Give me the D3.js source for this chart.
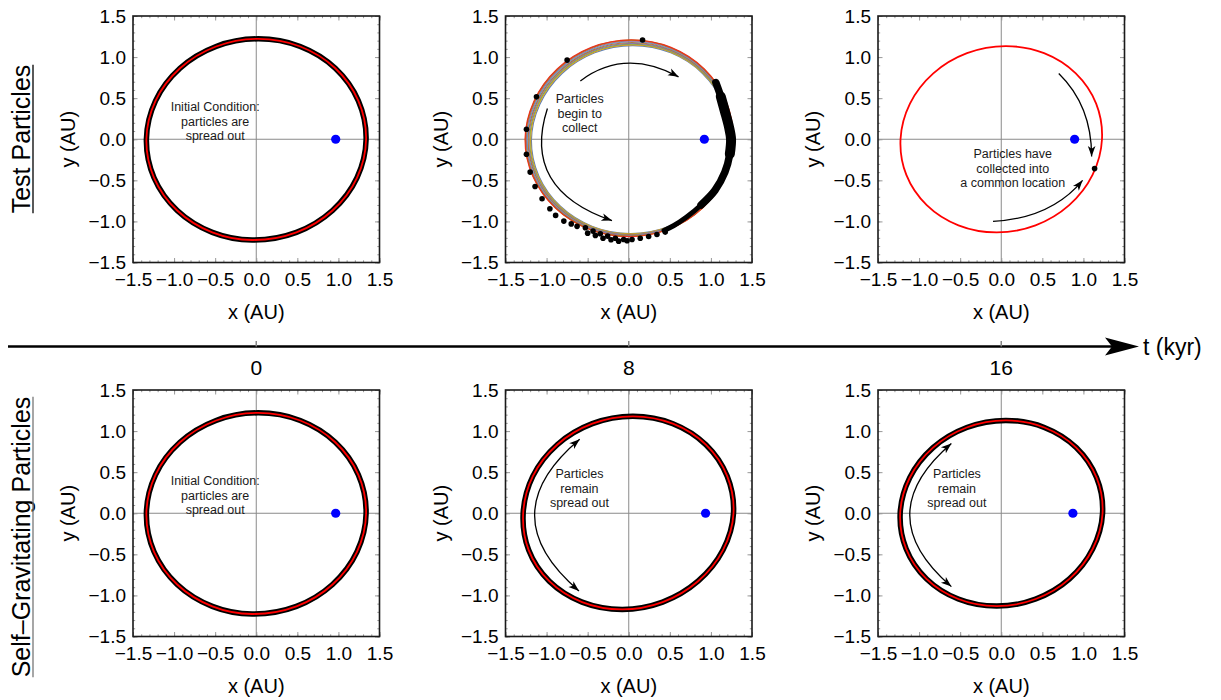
<!DOCTYPE html>
<html>
<head>
<meta charset="utf-8">
<script src="https://cdn.jsdelivr.net/npm/d3@7"></script>
<style>
  body { margin: 0; background: #fff; }
  svg { display: block; }
  text { font-family: "Liberation Sans", Arial, sans-serif; }
</style>
</head>
<body>
<svg id="chart" width="1221" height="700"></svg>
<script>
// values, in AU
var axisTicks = [-1.5, -1.0, -0.5, 0.0, 0.5, 1.0, 1.5];
var timeLabels = ['0', '8', '16'];
var rowLabels = ['Test Particles', 'Self\u2013Gravitating Particles'];

// planet (blue dot) x position per panel, y = 0
var planetX = [0.967, 0.92, 0.893, 0.967, 0.935, 0.872];

// orbit traces, counter-clockwise from the +x side
var orbitStart = [[1.337, 0], [1.243, 0.468], [0.962, 0.864], [0.535, 1.129], [0.024, 1.222], [-0.489, 1.129],
    [-0.928, 0.864], [-1.226, 0.468], [-1.337, 0], [-1.244, -0.469], [-0.962, -0.867], [-0.535, -1.133],
    [-0.05, -1.226], [0.489, -1.133], [0.928, -0.867], [1.226, -0.469]];
var orbitTest8 = [[1.27, 0], [1.185, 0.463], [0.919, 0.855], [0.514, 1.118], [0.03, 1.21], [-0.455, 1.118],
    [-0.871, 0.855], [-1.154, 0.463], [-1.262, 0], [-1.166, -0.454], [-0.892, -0.838], [-0.483, -1.095],
    [0.0, -1.185], [0.486, -1.095], [0.898, -0.838], [1.173, -0.454]];
var orbitTest16 = [[1.226, 0], [1.155, 0.434], [0.907, 0.802], [0.521, 1.048], [0.057, 1.134], [-0.417, 1.048],
    [-0.827, 0.802], [-1.111, 0.434], [-1.226, 0], [-1.155, -0.434], [-0.907, -0.802], [-0.521, -1.048],
    [-0.057, -1.134], [0.417, -1.048], [0.827, -0.802], [1.111, -0.434]];
var orbitSelf8 = [[1.275, 0], [1.198, 0.452], [0.939, 0.834], [0.537, 1.090], [0.05, 1.18], [-0.443, 1.090],
    [-0.871, 0.834], [-1.167, 0.452], [-1.285, 0], [-1.218, -0.448], [-0.967, -0.827], [-0.568, -1.081],
    [-0.08, -1.17], [0.412, -1.081], [0.843, -0.827], [1.147, -0.448]];
var orbitSelf16 = [[1.233, 0], [1.161, 0.432], [0.912, 0.799], [0.524, 1.044], [0.057, 1.13], [-0.419, 1.044],
    [-0.830, 0.799], [-1.114, 0.432], [-1.23, 0], [-1.158, -0.432], [-0.91, -0.799], [-0.523, -1.044],
    [-0.057, -1.13], [0.419, -1.044], [0.830, -0.799], [1.114, -0.432]];

// the spread of test-particle orbits at 8 kyr (scale about bandCenter)
var bandCenter = [0.45, -0.35];
var bandScale = [0.955, 0.961, 0.967, 0.973, 0.979, 0.985, 0.991, 0.997, 1.0];
var bandColors = ['#5e81b5', '#e19c24', '#8fb032', '#8778b3', '#c56e1a', '#5d9ec7', '#a5609d', '#929600', '#eb3020'];

// test particles at 8 kyr
var dotsTest8 = [[0.168, 1.207], [-0.75, 0.963], [-1.123, 0.516], [-1.245, 0.122], [-1.245, -0.183],
    [-1.20, -0.40], [-1.14, -0.575], [-1.055, -0.725], [-0.96, -0.845], [-0.89, -0.927], [-0.79, -0.996],
    [-0.70, -1.03], [-0.629, -1.06], [-0.528, -1.077], [-0.5, -1.143], [-0.435, -1.118], [-0.406, -1.17],
    [-0.346, -1.15], [-0.313, -1.204], [-0.257, -1.179], [-0.216, -1.223], [-0.163, -1.204], [-0.123, -1.24],
    [-0.062, -1.22], [-0.02, -1.236], [0.04, -1.22], [0.14, -1.204], [0.242, -1.183], [0.343, -1.159],
    [0.444, -1.13]];
// dense clump of particles at 8 kyr: centre line, and the index ranges of its thin / thick / core parts
var clumpTest8 = [[1.06, 0.69], [1.12, 0.52], [1.17, 0.34], [1.22, 0.15], [1.245, 0.0], [1.23, -0.18],
    [1.17, -0.40], [1.05, -0.62], [0.88, -0.80], [0.70, -0.95], [0.55, -1.05], [0.43, -1.11]];
var clumpParts = [[0, 11], [0, 8], [1, 5]];
var clumpWidth = [5, 7.5, 10];
var dotsTest16 = [[1.136, -0.357]];

// annotation arrows: [start, control, end]
var arrowsTest8 = [[[-0.589, 0.71], [-0.05, 1.115], [0.606, 0.76]],
    [[-0.99, 0.375], [-1.31, -0.61], [-0.204, -0.99]]];
var arrowsTest16 = [[[0.70, 0.80], [1.10, 0.41], [1.10, -0.21]],
    [[-0.10, -1.0], [0.61, -0.96], [0.99, -0.50]]];
var arrowsSelf8 = [[[-0.597, 0.90], [-1.69, -0.02], [-0.606, -0.945]]];
var arrowsSelf16 = [[[-0.607, 0.85], [-1.62, -0.02], [-0.607, -0.893]]];

var noteStart = ['Initial Condition:', 'particles are', 'spread out'];
var noteTest8 = ['Particles', 'begin to', 'collect'];
var noteTest16 = ['Particles have', 'collected into', 'a common location'];
var noteSelf = ['Particles', 'remain', 'spread out'];
// centre of the first text line, AU
var notePos = [[-0.5, 0.40], [-0.597, 0.50], [0.14, -0.17], [-0.5, 0.40], [-0.6, 0.486], [-0.54, 0.486]];

// layout
var colLeft = [133, 505.5, 878];
var rowTop = [16, 390];
var plotSize = 246.5;

var panels = [
    {col: 0, row: 0, orbit: orbitStart, ring: true, note: noteStart, arrows: [], dbl: false},
    {col: 1, row: 0, orbit: orbitTest8, band: true, dots: dotsTest8, note: noteTest8, arrows: arrowsTest8, dbl: false},
    {col: 2, row: 0, orbit: orbitTest16, dots: dotsTest16, note: noteTest16, arrows: arrowsTest16, dbl: false},
    {col: 0, row: 1, orbit: orbitStart, ring: true, note: noteStart, arrows: [], dbl: false},
    {col: 1, row: 1, orbit: orbitSelf8, ring: true, note: noteSelf, arrows: arrowsSelf8, dbl: true},
    {col: 2, row: 1, orbit: orbitSelf16, ring: true, note: noteSelf, arrows: arrowsSelf16, dbl: true}
];

var svg = d3.select('#chart');

svg.append('defs').append('marker')
    .attr('id', 'head')
    .attr('viewBox', '-11 -5 12 10')
    .attr('refX', 0).attr('refY', 0)
    .attr('markerWidth', 12).attr('markerHeight', 10)
    .attr('markerUnits', 'userSpaceOnUse')
    .attr('orient', 'auto-start-reverse')
    .append('path')
    .attr('d', 'M0,0L-10.5,-3.8L-7.8,0L-10.5,3.8Z')
    .attr('fill', '#000');

var minorTicks = d3.range(-15, 16).map(function (d) { return d / 10; });
var fmt = d3.format('.1f');

panels.forEach(function (p, i) {
    var left = colLeft[p.col], top = rowTop[p.row];
    var x = d3.scaleLinear().domain([-1.5, 1.5]).range([left, left + plotSize]);
    var y = d3.scaleLinear().domain([-1.5, 1.5]).range([top + plotSize, top]);
    var g = svg.append('g');

    var line = d3.line()
        .curve(d3.curveCatmullRomClosed)
        .x(function (d) { return x(d[0]); })
        .y(function (d) { return y(d[1]); });
    var openLine = d3.line()
        .curve(d3.curveCatmullRom)
        .x(function (d) { return x(d[0]); })
        .y(function (d) { return y(d[1]); });

    // zero lines
    g.append('line').attr('x1', x(-1.5)).attr('x2', x(1.5)).attr('y1', y(0)).attr('y2', y(0))
        .attr('stroke', '#8a8a8a').attr('stroke-width', 1);
    g.append('line').attr('x1', x(0)).attr('x2', x(0)).attr('y1', y(-1.5)).attr('y2', y(1.5))
        .attr('stroke', '#8a8a8a').attr('stroke-width', 1);

    // frame ticks (inward) via axes
    [[d3.axisBottom, y(-1.5)], [d3.axisTop, y(1.5)]].forEach(function (a) {
        [[minorTicks, 2.2], [axisTicks, 4.5]].forEach(function (t) {
            var ax = g.append('g').attr('transform', 'translate(0,' + a[1] + ')')
                .call(a[0](x).tickValues(t[0]).tickSize(-t[1]).tickFormat(''));
            ax.select('.domain').remove();
            ax.selectAll('line').attr('stroke', '#999');
        });
    });
    [[d3.axisLeft, x(-1.5)], [d3.axisRight, x(1.5)]].forEach(function (a) {
        [[minorTicks, 2.2], [axisTicks, 4.5]].forEach(function (t) {
            var ax = g.append('g').attr('transform', 'translate(' + a[1] + ',0)')
                .call(a[0](y).tickValues(t[0]).tickSize(-t[1]).tickFormat(''));
            ax.select('.domain').remove();
            ax.selectAll('line').attr('stroke', '#999');
        });
    });

    // tick labels
    var xl = g.append('g').attr('transform', 'translate(0,' + (top + plotSize + 7) + ')')
        .call(d3.axisBottom(x).tickValues(axisTicks).tickSize(0).tickFormat(fmt));
    xl.select('.domain').remove();
    xl.selectAll('text').attr('font-size', 19).attr('fill', '#000')
        .attr('font-family', '"Liberation Sans", Arial, sans-serif');
    var yl = g.append('g').attr('transform', 'translate(' + (left - 4) + ',0)')
        .call(d3.axisLeft(y).tickValues(axisTicks).tickSize(0).tickFormat(fmt));
    yl.select('.domain').remove();
    yl.selectAll('text').attr('font-size', 19).attr('fill', '#000')
        .attr('font-family', '"Liberation Sans", Arial, sans-serif');

    // axis titles
    g.append('text').attr('x', x(0)).attr('y', top + plotSize + 56)
        .attr('text-anchor', 'middle').attr('font-size', 20).text('x (AU)');
    g.append('text')
        .attr('transform', 'translate(' + (left - 58) + ',' + y(0) + ') rotate(-90)')
        .attr('text-anchor', 'middle').attr('font-size', 20).text('y (AU)');

    // orbits
    if (p.band) {
        bandScale.forEach(function (s, k) {
            var pts = p.orbit.map(function (d) {
                return [bandCenter[0] + (d[0] - bandCenter[0]) * s, bandCenter[1] + (d[1] - bandCenter[1]) * s];
            });
            g.append('path').attr('d', line(pts)).attr('fill', 'none')
                .attr('stroke', bandColors[k]).attr('stroke-width', 1.2);
        });
        clumpParts.forEach(function (r, k) {
            g.append('path').attr('d', openLine(clumpTest8.slice(r[0], r[1] + 1)))
                .attr('fill', 'none').attr('stroke', '#000').attr('stroke-width', clumpWidth[k])
                .attr('stroke-linecap', 'round').attr('stroke-linejoin', 'round');
        });
    } else {
        if (p.ring) {
            g.append('path').attr('d', line(p.orbit)).attr('fill', 'none')
                .attr('stroke', '#000').attr('stroke-width', 5.5);
        }
        g.append('path').attr('d', line(p.orbit)).attr('fill', 'none')
            .attr('stroke', '#f00').attr('stroke-width', 1.8);
    }

    if (p.dots) {
        g.selectAll('circle.dot').data(p.dots).enter().append('circle')
            .attr('class', 'dot')
            .attr('cx', function (d) { return x(d[0]); })
            .attr('cy', function (d) { return y(d[1]); })
            .attr('r', 2.8).attr('fill', '#000');
    }

    // planet
    g.append('circle').attr('cx', x(planetX[i])).attr('cy', y(0)).attr('r', 4.6).attr('fill', '#0000ff');

    // arrows
    p.arrows.forEach(function (a) {
        var path = d3.path();
        path.moveTo(x(a[0][0]), y(a[0][1]));
        path.quadraticCurveTo(x(a[1][0]), y(a[1][1]), x(a[2][0]), y(a[2][1]));
        var el = g.append('path').attr('d', path.toString()).attr('fill', 'none')
            .attr('stroke', '#000').attr('stroke-width', 1.3)
            .attr('marker-end', 'url(#head)');
        if (p.dbl) el.attr('marker-start', 'url(#head)');
    });

    // note
    var t = g.append('text').attr('text-anchor', 'middle').attr('font-size', 12.5).attr('fill', '#1a1a1a');
    p.note.forEach(function (s, k) {
        t.append('tspan').attr('x', x(notePos[i][0]))
            .attr('y', y(notePos[i][1]) + 5 + k * 14.5)
            .text(s);
    });

    // frame
    g.append('rect').attr('x', left).attr('y', top).attr('width', plotSize).attr('height', plotSize)
        .attr('fill', 'none').attr('stroke', '#1a1a1a').attr('stroke-width', 1.6);
});

// time axis
var tY = 346.5;
var t = d3.scalePoint().domain(timeLabels)
    .range([colLeft[0] + plotSize / 2, colLeft[2] + plotSize / 2]);
svg.append('line').attr('x1', 8).attr('x2', 1112).attr('y1', tY).attr('y2', tY)
    .attr('stroke', '#000').attr('stroke-width', 2.6);
svg.append('path').attr('d', 'M1139,' + tY + 'L1105,' + (tY - 9) + 'L1112,' + tY + 'L1105,' + (tY + 9) + 'Z')
    .attr('fill', '#000');
timeLabels.forEach(function (d) {
    svg.append('line').attr('x1', t(d)).attr('x2', t(d)).attr('y1', tY - 5.5).attr('y2', tY)
        .attr('stroke', '#888').attr('stroke-width', 1.5);
    svg.append('text').attr('x', t(d)).attr('y', tY + 28).attr('text-anchor', 'middle')
        .attr('font-size', 21).text(d);
});
svg.append('text').attr('x', 1143).attr('y', tY + 8).attr('font-size', 23).text('t (kyr)');

// row labels (underlined)
var rowCenter = [139, 537];
rowLabels.forEach(function (s, k) {
    var lab = svg.append('text')
        .attr('transform', 'translate(30,' + rowCenter[k] + ') rotate(-90)')
        .attr('text-anchor', 'middle').attr('font-size', 25).text(s);
    var w = lab.node().getComputedTextLength();
    svg.append('line').attr('x1', 33).attr('x2', 33)
        .attr('y1', rowCenter[k] - w / 2).attr('y2', rowCenter[k] + w / 2)
        .attr('stroke', k === 0 ? '#000' : '#777').attr('stroke-width', 1.3);
});
</script>
</body>
</html>
